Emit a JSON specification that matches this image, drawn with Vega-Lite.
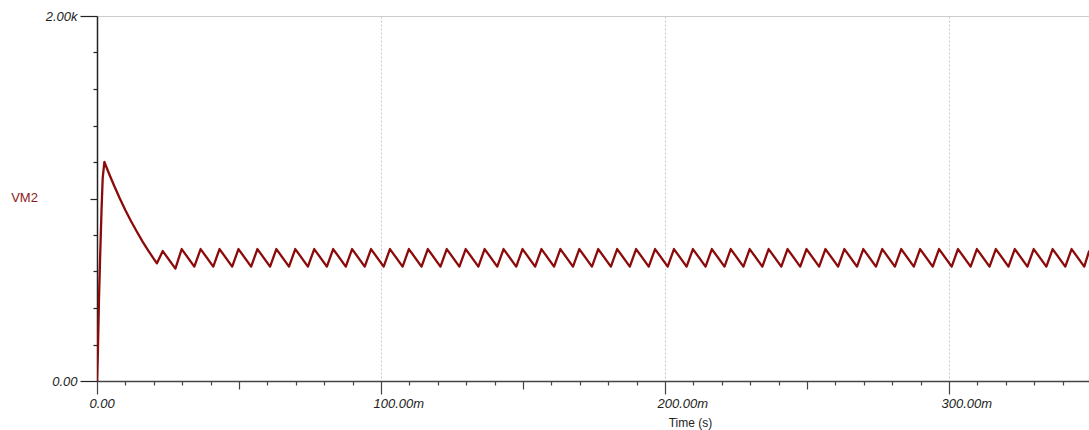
{
  "$schema": "https://vega.github.io/schema/vega-lite/v6.json",
  "width": 992,
  "height": 365,
  "autosize": "none",
  "padding": {"left": 97, "top": 16, "right": 0, "bottom": 49},
  "background": "white",
  "config": {"view": {"stroke": null}, "font": "Liberation Sans"},
  "data": {"values": [
    {"t": 0, "v": 0}, {"t": 0.3, "v": 150}, {"t": 0.7, "v": 450}, {"t": 1.1, "v": 680}, {"t": 1.6, "v": 940}, {"t": 2.0, "v": 1110}, {"t": 2.6, "v": 1200},
    {"t": 4.0, "v": 1145}, {"t": 6.0, "v": 1071}, {"t": 8.0, "v": 1001}, {"t": 10.0, "v": 936}, {"t": 12.0, "v": 875},
    {"t": 14.0, "v": 819}, {"t": 16.0, "v": 765}, {"t": 18.0, "v": 716}, {"t": 20.0, "v": 669}, {"t": 21.1, "v": 645},
    {"t": 23.15, "v": 712}, {"t": 27.6, "v": 616},
    {"t": 29.82, "v": 723}, {"t": 34.27, "v": 627},
    {"t": 36.49, "v": 723}, {"t": 40.94, "v": 627},
    {"t": 43.15, "v": 723}, {"t": 47.60, "v": 627},
    {"t": 49.82, "v": 723}, {"t": 54.27, "v": 627},
    {"t": 56.49, "v": 723}, {"t": 60.94, "v": 627},
    {"t": 63.16, "v": 723}, {"t": 67.61, "v": 627},
    {"t": 69.82, "v": 723}, {"t": 74.27, "v": 627},
    {"t": 76.49, "v": 723}, {"t": 80.94, "v": 627},
    {"t": 83.16, "v": 723}, {"t": 87.61, "v": 627},
    {"t": 89.82, "v": 723}, {"t": 94.27, "v": 627},
    {"t": 96.49, "v": 723}, {"t": 100.94, "v": 627},
    {"t": 103.16, "v": 723}, {"t": 107.61, "v": 627},
    {"t": 109.82, "v": 723}, {"t": 114.27, "v": 627},
    {"t": 116.49, "v": 723}, {"t": 120.94, "v": 627},
    {"t": 123.16, "v": 723}, {"t": 127.61, "v": 627},
    {"t": 129.83, "v": 723}, {"t": 134.28, "v": 627},
    {"t": 136.49, "v": 723}, {"t": 140.94, "v": 627},
    {"t": 143.16, "v": 723}, {"t": 147.61, "v": 627},
    {"t": 149.83, "v": 723}, {"t": 154.28, "v": 627},
    {"t": 156.49, "v": 723}, {"t": 160.94, "v": 627},
    {"t": 163.16, "v": 723}, {"t": 167.61, "v": 627},
    {"t": 169.83, "v": 723}, {"t": 174.28, "v": 627},
    {"t": 176.49, "v": 723}, {"t": 180.94, "v": 627},
    {"t": 183.16, "v": 723}, {"t": 187.61, "v": 627},
    {"t": 189.83, "v": 723}, {"t": 194.28, "v": 627},
    {"t": 196.50, "v": 723}, {"t": 200.95, "v": 627},
    {"t": 203.16, "v": 723}, {"t": 207.61, "v": 627},
    {"t": 209.83, "v": 723}, {"t": 214.28, "v": 627},
    {"t": 216.50, "v": 723}, {"t": 220.95, "v": 627},
    {"t": 223.16, "v": 723}, {"t": 227.61, "v": 627},
    {"t": 229.83, "v": 723}, {"t": 234.28, "v": 627},
    {"t": 236.50, "v": 723}, {"t": 240.95, "v": 627},
    {"t": 243.16, "v": 723}, {"t": 247.61, "v": 627},
    {"t": 249.83, "v": 723}, {"t": 254.28, "v": 627},
    {"t": 256.50, "v": 723}, {"t": 260.95, "v": 627},
    {"t": 263.16, "v": 723}, {"t": 267.61, "v": 627},
    {"t": 269.83, "v": 723}, {"t": 274.28, "v": 627},
    {"t": 276.50, "v": 723}, {"t": 280.95, "v": 627},
    {"t": 283.17, "v": 723}, {"t": 287.62, "v": 627},
    {"t": 289.83, "v": 723}, {"t": 294.28, "v": 627},
    {"t": 296.50, "v": 723}, {"t": 300.95, "v": 627},
    {"t": 303.17, "v": 723}, {"t": 307.62, "v": 627},
    {"t": 309.83, "v": 723}, {"t": 314.28, "v": 627},
    {"t": 316.50, "v": 723}, {"t": 320.95, "v": 627},
    {"t": 323.17, "v": 723}, {"t": 327.62, "v": 627},
    {"t": 329.83, "v": 723}, {"t": 334.28, "v": 627},
    {"t": 336.50, "v": 723}, {"t": 340.95, "v": 627},
    {"t": 343.17, "v": 723}, {"t": 347.62, "v": 627},
    {"t": 349.4, "v": 715}
  ]},
  "mark": {"type": "line", "color": "#8B0A0A", "strokeWidth": 2.3, "clip": true, "strokeJoin": "round"},
  "encoding": {
    "x": {
      "field": "t", "type": "quantitative",
      "scale": {"domain": [0, 349.3], "nice": false, "zero": false},
      "axis": {
        "values": [0, 10, 20, 30, 40, 50, 60, 70, 80, 90, 100, 110, 120, 130, 140, 150, 160, 170, 180, 190, 200, 210, 220, 230, 240, 250, 260, 270, 280, 290, 300, 310, 320, 330, 340],
        "labelExpr": "datum.value == 0 ? '0.00' : (datum.value % 100 == 0 ? format(datum.value, '.2f') + 'm' : '')",
        "labelFont": "Liberation Sans", "labelFontSize": 13, "labelFontStyle": "italic", "labelColor": "#222",
        "labelAlign": "left", "labelOffset": -8, "labelPadding": 3, "labelFlush": false, "labelOverlap": false,
        "tickSize": {"condition": [{"test": "datum.value % 100 == 0", "value": 13}, {"test": "datum.value % 50 == 0", "value": 8}], "value": 4},
        "tickColor": "#444", "tickWidth": 1.2,
        "domainColor": "#444", "domainWidth": 1.5,
        "grid": true, "gridDash": [2, 2], "gridColor": "#c8c8c8",
        "gridOpacity": {"condition": {"test": "datum.value % 100 == 0 && datum.value > 0", "value": 1}, "value": 0},
        "title": "Time (s)", "titleX": 593, "titleY": 41, "titleAlign": "center", "titleBaseline": "middle",
        "titleFont": "Liberation Sans", "titleFontSize": 12, "titleFontWeight": "normal", "titleColor": "#222"
      }
    },
    "y": {
      "field": "v", "type": "quantitative",
      "scale": {"domain": [0, 2000], "nice": false},
      "axis": {
        "values": [0, 200, 400, 600, 800, 1000, 1200, 1400, 1600, 1800, 2000],
        "labelExpr": "datum.value == 0 ? '0.00' : (datum.value == 2000 ? '2.00k' : '')",
        "labelFont": "Liberation Sans", "labelFontSize": 13, "labelFontStyle": "italic", "labelColor": "#222",
        "labelPadding": 3, "labelFlush": false, "labelOverlap": false,
        "tickSize": {"condition": [{"test": "datum.value == 0 || datum.value == 2000", "value": 17}, {"test": "datum.value == 1000", "value": 7}], "value": 4},
        "tickColor": "#222", "tickWidth": 1.2,
        "domainColor": "#222", "domainWidth": 1.5,
        "grid": true, "gridColor": "#cccccc",
        "gridOpacity": {"condition": {"test": "datum.value == 2000", "value": 1}, "value": 0},
        "title": "VM2", "titleAngle": 0, "titleX": -73, "titleY": 181, "titleAlign": "center", "titleBaseline": "middle",
        "titleFont": "Liberation Sans", "titleFontSize": 13, "titleFontWeight": "normal", "titleColor": "#8B1A1A"
      }
    }
  }
}
